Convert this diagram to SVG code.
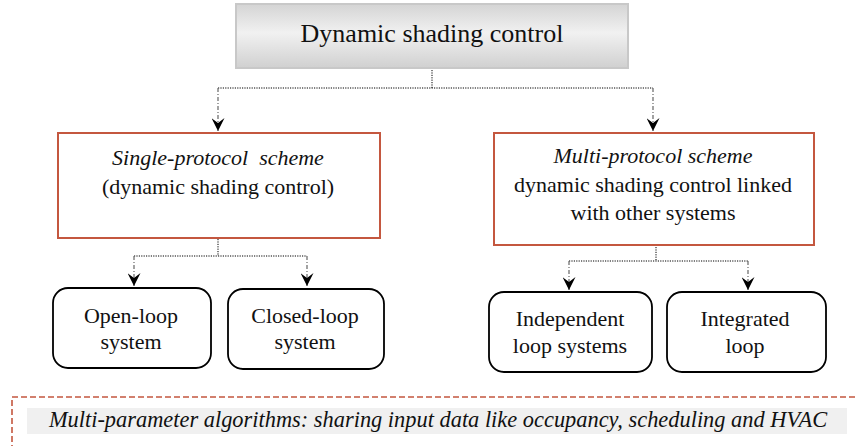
<svg xmlns="http://www.w3.org/2000/svg" width="858" height="446" viewBox="0 0 858 446">
<defs>
<linearGradient id="gTop" x1="0" y1="0" x2="0" y2="1">
<stop offset="0" stop-color="#d4d4d4"/>
<stop offset="0.45" stop-color="#f1f1f1"/>
<stop offset="1" stop-color="#d0d0d0"/>
</linearGradient>
<marker id="ah" markerUnits="userSpaceOnUse" markerWidth="13" markerHeight="13" refX="13" refY="6.5" orient="auto" viewBox="0 0 13 13">
<path d="M0,0 L13,6.5 L0,13 L5,6.5 Z" fill="#000"/>
</marker>
<style>
text{font-family:"Liberation Serif",serif;fill:#111;}
.t22{font-size:22px;text-anchor:middle;}
.it{font-style:italic;}
.red{fill:#fff;stroke:#c4573f;stroke-width:2;}
.rnd{fill:#fff;stroke:#000;stroke-width:1.8;}
.dot{fill:none;stroke:#000;stroke-width:1;stroke-dasharray:1.2,1.2;}
.arr{fill:none;stroke:#666;stroke-width:1.2;stroke-dasharray:4,2,1,2;marker-end:url(#ah);}
</style>
</defs>
<rect width="858" height="446" fill="#fff"/>
<g id="connectors">
<path class="dot" d="M432,70 V88 M218,88 H653"/>
<path class="arr" d="M218,88 V131"/>
<path class="arr" d="M653,88 V131"/>
<path class="dot" d="M218,239 V256 M134,256 H307"/>
<path class="arr" d="M134,256 V286"/>
<path class="arr" d="M307,256 V286"/>
<path class="dot" d="M656,247 V261 M569,261 H748"/>
<path class="arr" d="M569,261 V290"/>
<path class="arr" d="M748,261 V290"/>
</g>
<g id="top">
<rect x="236" y="4" width="392" height="64" fill="url(#gTop)" stroke="#c8c8c8" stroke-width="2"/>
<text x="432" y="42" style="font-size:26px;text-anchor:middle;">Dynamic shading control</text>
</g>
<g id="single">
<rect class="red" x="58" y="133" width="322" height="105"/>
<text class="t22 it" x="218" y="165">Single-protocol&#160; scheme</text>
<text class="t22" x="218" y="194">(dynamic shading control)</text>
</g>
<g id="multi">
<rect class="red" x="494" y="133" width="320" height="112"/>
<text class="t22 it" x="653" y="163">Multi-protocol scheme</text>
<text class="t22" x="653" y="192">dynamic shading control linked</text>
<text class="t22" x="653" y="220">with other systems</text>
</g>
<g id="openloop">
<rect class="rnd" x="53" y="288" width="158" height="80" rx="15"/>
<text class="t22" x="131" y="323">Open-loop</text>
<text class="t22" x="131" y="349">system</text>
</g>
<g id="closedloop">
<rect class="rnd" x="228" y="289" width="156" height="80" rx="15"/>
<text class="t22" x="305" y="323">Closed-loop</text>
<text class="t22" x="305" y="349">system</text>
</g>
<g id="independent">
<rect class="rnd" x="489" y="292" width="163" height="80" rx="15"/>
<text class="t22" x="570" y="326">Independent</text>
<text class="t22" x="570" y="353">loop systems</text>
</g>
<g id="integrated">
<rect class="rnd" x="667" y="292" width="159" height="80" rx="15"/>
<text class="t22" x="745" y="326">Integrated</text>
<text class="t22" x="745" y="353">loop</text>
</g>
<g id="algorithms">
<path d="M12,460 V397 H870" fill="none" stroke="#c4573f" stroke-width="1.6" stroke-dasharray="6,3"/>
<rect x="27" y="408" width="820" height="26" fill="#f0f0f0"/>
<text class="it" x="438" y="427" style="font-size:22.4px;text-anchor:middle;">Multi-parameter algorithms: sharing input data like occupancy, scheduling and HVAC</text>
</g>
</svg>
